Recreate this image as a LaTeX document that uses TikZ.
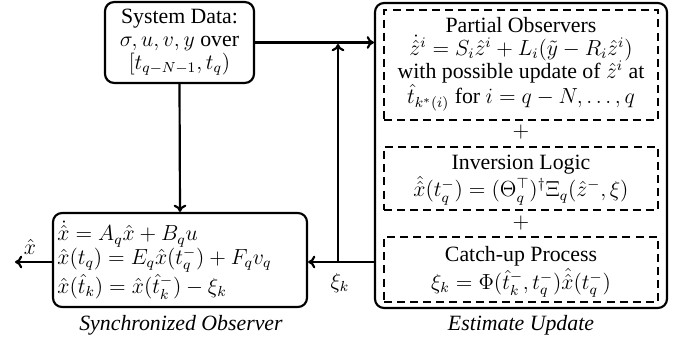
\documentclass[tikz,border=0pt]{standalone}
\usepackage{amsmath,amssymb}
\usepackage{fontspec}
\setmainfont{Liberation Serif}
\usetikzlibrary{arrows.meta,calc}
\begin{document}
\begin{tikzpicture}[x=0.55pt,y=-0.55pt,
  every node/.style={font=\fontsize{12}{12.7}\selectfont},
  conn/.style={line width=1.2pt,-{To[length=4pt,width=7pt]}},
  rbox/.style={draw,line width=1.2pt,rounded corners=5pt,inner sep=0pt},
  dbox/.style={draw,line width=0.6pt,inner sep=0pt,dash pattern=on 4.4pt off 2.8pt},
  captxt/.style={font=\fontsize{12}{12.7}\selectfont\itshape},
  txt/.style={align=center,inner sep=0pt}]
\useasboundingbox (0,0) rectangle (684,345);
% boxes
\node[rbox,minimum width=81.95pt,minimum height=44.5pt] (sys) at (179.5,42.5) {};
\node[txt] (systxt) at (179.5,42) {System Data:\\ $\sigma,u,v,y$ over\\ $[t_{q-N-1},t_q)$};
\node[rbox,minimum width=139.7pt,minimum height=51.7pt] (sync) at (180,260) {};
\node[align=left,inner sep=0pt,anchor=west] (synctxt) at (57,260) {$\dot{\hat{x}}=A_q\hat{x}+B_qu$\\ $\hat{x}(t_q)=E_q\hat{x}(t_q^-)+F_qv_q$\\ $\hat{x}(\hat{t}_k)=\hat{x}(\hat{t}_k^-)-\xi_k$};
\node[captxt] (synccap) at (181,325) {Synchronized Observer};
\node[rbox,minimum width=160.6pt,minimum height=167.75pt] (est) at (521,155.5) {};
\node[captxt] (estcap) at (521,325) {Estimate Update};
\node[dbox,minimum width=150.7pt,minimum height=60.5pt] (d1) at (521,65) {};
\node[txt] (d1txt) at (521,64) {Partial Observers\\ $\dot{\hat{z}}^i=S_i\hat{z}^i+L_i(\tilde{y}-R_i\hat{z}^i)$\\ with possible update of $\hat{z}^i$ at\\ $\hat{t}_{k^*(i)}$ for $i=q-N,\dots,q$};
\node (p1) at (521,132) {$+$};
\node[dbox,minimum width=150.7pt,minimum height=34.65pt] (d2) at (521,178.5) {};
\node[txt] (d2txt) at (521,180) {Inversion Logic\\ $\hat{\hat{x}}(t_q^-)=(\Theta_q^\top)^\dagger\Xi_q(\hat{z}^-,\xi)$};
\node (p2) at (521,223) {$+$};
\node[dbox,minimum width=150.7pt,minimum height=35.75pt] (d3) at (521,269.5) {};
\node[txt] (d3txt) at (521,272) {Catch-up Process\\ $\xi_k=\Phi(\hat{t}_k^-,t_q^-)\hat{\hat{x}}(t_q^-)$};
% connectors
\coordinate (j) at (338,262);
\coordinate (out) at (15,262);
\draw[conn] (sys.east) -- (sys.east -| est.west);
\draw[conn] (sys.south) -- (sync.north);
\draw[conn] (j -| est.west) -- (j -| sync.east);
\draw[conn] (j) -- ($(j |- sys.east)+(0,1.5)$);
\draw[conn] (j -| sync.west) -- (out);
\node (xh) at (30,247) {$\hat{x}$};
\node (xik) at (340,283) {$\xi_k$};
\end{tikzpicture}
\end{document}
